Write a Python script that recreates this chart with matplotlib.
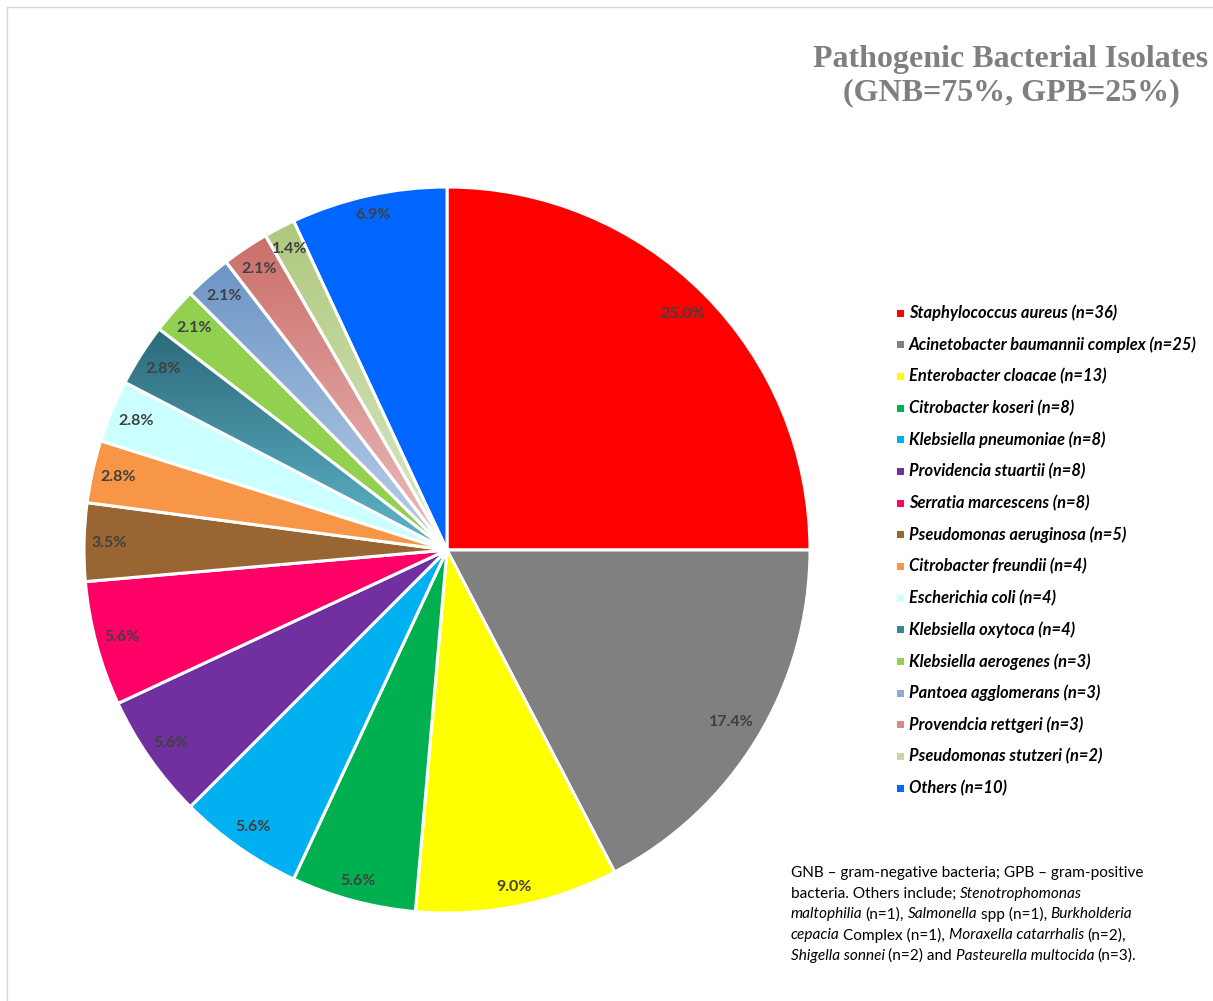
import matplotlib
matplotlib.use("Agg")
import matplotlib.pyplot as plt
import numpy as np
from matplotlib.patches import Wedge, Rectangle
from matplotlib.lines import Line2D
from matplotlib.colors import to_rgb

# ---------------- data ----------------
species = ["Staphylococcus aureus", "Acinetobacter baumannii complex", "Enterobacter cloacae",
           "Citrobacter koseri", "Klebsiella pneumoniae", "Providencia stuartii",
           "Serratia marcescens", "Pseudomonas aeruginosa", "Citrobacter freundii",
           "Escherichia coli", "Klebsiella oxytoca", "Klebsiella aerogenes",
           "Pantoea agglomerans", "Provendcia rettgeri", "Pseudomonas stutzeri", "Others"]
counts = [36, 25, 13, 8, 8, 8, 8, 5, 4, 4, 4, 3, 3, 3, 2, 10]
colors = ["#FF0000", "#808080", "#FFFF00", "#00B050", "#00B0F0", "#7030A0",
          "#FF0066", "#996633", "#F79646", "#CCFFFF", "#3C8597", "#92D050",
          "#8EADD6", "#D98A88", "#C4D8A0", "#0066FF"]
# gradient fills (outer/top colour, inner/bottom colour) for some slices
gradients = {10: ("#2C6A7A", "#60B6CB"),
             12: ("#6C95C6", "#BCD0E8"),
             13: ("#CB6F6B", "#EDBDBD"),
             14: ("#AFC87D", "#DCE9C8")}
title = "Pathogenic Bacterial Isolates\n(GNB=75%, GPB=25%)"

W, H = 1213, 1001
fig = plt.figure(figsize=(W / 100, H / 100), dpi=100)
fig.patch.set_facecolor("white")

def fx(px):
    return px / W

def fy(py):
    return 1 - py / H

# pie axes: centre (447,550) px, radius 363 px
cx, cy, R = 447, 550, 363
ax = fig.add_axes([fx(cx - R), fy(cy + R), 2 * R / W, 2 * R / H])
ax.set_axis_off()

wedges, texts, autotexts = ax.pie(
    counts, colors=colors, startangle=90, counterclock=False,
    autopct=lambda p: f"{p:.1f}%", pctdistance=0.925,
    wedgeprops=dict(edgecolor="white", linewidth=2.2),
    textprops=dict(fontsize=11.5, fontweight="bold", color="#404040", family="Lato"))

for idx, (c_out, c_in) in gradients.items():
    w = wedges[idx]
    v = w.get_path().vertices
    xmin, xmax = v[:, 0].min(), v[:, 0].max()
    ymin, ymax = v[:, 1].min(), v[:, 1].max()
    n = 200
    a = np.linspace(0, 1, n)[:, None]
    ci, co = np.array(to_rgb(c_in)), np.array(to_rgb(c_out))
    grad = (ci[None, :] * (1 - a) + co[None, :] * a)[:, None, :]
    im = ax.imshow(grad, extent=[xmin, xmax, ymin, ymax], origin="lower",
                   interpolation="bilinear", aspect="auto", zorder=2)
    im.set_clip_path(w)
    ax.add_patch(Wedge(w.center, w.r, w.theta1, w.theta2, facecolor="none",
                       edgecolor="white", linewidth=2.2, zorder=3))

ax.set_xlim(-1, 1)
ax.set_ylim(-1, 1)
ax.set_aspect("auto")

# "inside end" label placement: outer corner of label box sits just inside the rim
renderer = fig.canvas.get_renderer()
rim_px = 356.0
half_h = 9.0
for w, t in zip(wedges, autotexts):
    t.set_zorder(10)
    ang = np.deg2rad(0.5 * (w.theta1 + w.theta2))
    ux, uy = np.cos(ang), np.sin(ang)
    bb = t.get_window_extent(renderer)
    a_, b_ = bb.width / 2, half_h
    p = abs(ux) * a_ + abs(uy) * b_
    d = -p + np.sqrt(p * p - (a_ * a_ + b_ * b_ - rim_px ** 2))
    t.set_position((d * ux / R, d * uy / R))

# ---------------- title ----------------
fig.text(fx(1011), fy(76), title, ha="center", va="center", fontsize=23,
         fontweight="bold", color="#7F7F7F", family="Liberation Serif",
         linespacing=1.22)

# ---------------- legend ----------------
y0, step = 313, 31.67
for i, (name, n) in enumerate(zip(species, counts)):
    y = y0 + i * step
    fig.patches.append(Rectangle((fx(897), fy(y + 3.5)), 7 / W, 7 / H,
                                 transform=fig.transFigure, facecolor=colors[i],
                                 edgecolor="none"))
    fig.text(fx(909), fy(y), f"{name} (n={n})", ha="left", va="center",
             fontsize=11.9, fontweight="bold", fontstyle="italic",
             family="Lato", color="#000000")

# ---------------- footnote with mixed italics ----------------
foot = [
    [("GNB – gram-negative bacteria; GPB – gram-positive", "normal")],
    [("bacteria. Others include; ", "normal"), ("Stenotrophomonas", "italic")],
    [("maltophilia", "italic"), (" (n=1), ", "normal"), ("Salmonella", "italic"),
     (" spp (n=1), ", "normal"), ("Burkholderia", "italic")],
    [("cepacia", "italic"), (" Complex (n=1), ", "normal"),
     ("Moraxella catarrhalis", "italic"), (" (n=2),", "normal")],
    [("Shigella sonnei", "italic"), (" (n=2) and ", "normal"),
     ("Pasteurella multocida", "italic"), (" (n=3).", "normal")],
]
fsize = 11.1
def text_width(s, style):
    t = fig.text(0, 0, s, fontsize=fsize, family="Lato", fontstyle=style)
    wpx = t.get_window_extent(renderer).width
    t.remove()
    return wpx
space_w = {st: text_width("a a", st) - text_width("aa", st) for st in ("normal", "italic")}
fx0, fy0, fstep = 791, 873, 20.7
for li, segs in enumerate(foot):
    xpx = fx0
    ypx = fy0 + li * fstep
    for s, st in segs:
        nl = len(s) - len(s.lstrip(" "))
        nt = len(s) - len(s.rstrip(" "))
        core = s.strip(" ")
        xpx += nl * space_w[st]
        t = fig.text(fx(xpx), fy(ypx), core, ha="left", va="center", fontsize=fsize,
                     family="Lato", fontstyle=st, color="#000000")
        bb = t.get_window_extent(renderer)
        xpx = bb.x1 + nt * space_w[st] - (0.8 if st == "italic" else 0.0)

# ---------------- border ----------------
fig.add_artist(Line2D([fx(7), 1], [fy(7), fy(7)], transform=fig.transFigure,
                      color="#D9D9D9", linewidth=1))
fig.add_artist(Line2D([fx(7), fx(7)], [fy(7), 0], transform=fig.transFigure,
                      color="#D9D9D9", linewidth=1))

fig.savefig("out.png", dpi=100, facecolor="white")
